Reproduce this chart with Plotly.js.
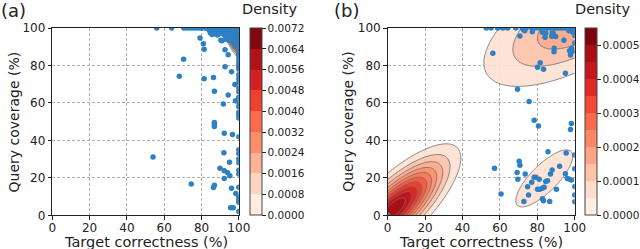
<!DOCTYPE html>
<html>
<head>
<meta charset="utf-8">
<script src="https://cdn.plot.ly/plotly-3.0.1.min.js"></script>
<style>html,body{margin:0;padding:0;background:#fff;}#chart{width:640px;height:249px;}</style>
</head>
<body>
<div id="chart"></div>
<script>
// ---------------- data ----------------
// Panel (a): hit points (target correctness %, query coverage %)
const aX = [
 56,64,70.5,72,73.5,75,76.5,78,79.5,80.5,82,83,84,85,86,87,88,89,90,91,92,93,94,95,96,97,98,99,100,
 84,86,88,89.5,91,92,93,94,95,96,97,98,99,100,
 92.5,94,95.5,97,98.5,100,91,93,95,97,99,
 93,94.5,99.5,100,100,100,100,100,100,100,100,
 97.2,98.2,96.3,
 79.2,81,81.4,84.7,85.6,88,88.7,90.4,91,92.6,94.3,
 70.4,68.1,81.4,86.4,92.6,96.1,97.9,86.9,94.3,98.2,91.7,
 86.9,86.9,86.9,92.2,96.6,54,92,95,89.9,92.2,94,95.2,92.2,74.5,86.9,86.4,96.1,98.4,95.6,97,
 100,100,100,100,100,100,100,100,100,100,100,100,100,100,100,100,100,100,100,100,100,100,100,100,100,100
];
const aY = [
 100,100,100,100,100,100,100,100,100,100,100,100,100,100,100,100,100,100,100,100,100,100,100,100,100,100,100,100,100,
 99,98.5,99,98,99,97.5,98.5,97,98.5,97,98.5,97,98.5,97,
 96,95.5,96,95.5,96,95,97,96.5,97,97,96.5,
 94,93.5,94,93,91.5,89,87,86,85,83,81.5,
 92.5,90.5,94.5,
 94.6,91.6,88.6,97.5,96.5,96.5,96.2,93.5,93.2,88.4,85.7,
 83.3,74.2,72.9,73.6,79.3,76.6,69.8,66.2,64.2,61.2,59.4,
 49.6,48.5,47.4,43.8,43.1,31.1,33.4,28.3,25.1,23.8,22.7,21.1,19.6,16.7,16.1,14.9,14.4,11.7,4,4,
 2,7,8.5,10,15,22,24,28,30,33,35,42,52,53.5,55,58,60,63,66,68,71,73,75,78,80,79
];
// Panel (b): hit points
const bX = [
 52.7,55.3,58.8,61.5,64.1,68.5,72,74,77,79,81,83,85,86.5,88,89.5,91,92.5,94,95.5,97,98,99,100,
 70.7,72.6,73.3,77.3,82.7,84.5,88.4,87.7,84.1,94.2,98.6,96.9,88,89.8,89,98.3,98.7,
 88.9,81.5,80.1,83.3,95,97.2,97.7,56.2,69.4,75.6,78.3,80.6,98.2,97.7,
 100,100,100,100,100,100,100,100,
 57.1,60.6,70.3,70.7,69.2,69.6,73.5,74.8,75.3,72.8,77,78.3,79.2,81,80.1,81.3,82.7,83.6,84.5,85.4,
 85.7,87.9,87,82.7,83.3,86.6,90.2,91.9,95.4,95,96,97.2,98.2,0
];
const bY = [
 100,100,100,100,100,100,100,100,100,100,100,100,100,100,100,100,100,100,100,100,100,100,100,100,
 95.7,99,98.5,98,97.7,97.3,97.3,95.6,95,93.4,98,98.5,97.3,95.4,89.2,89.2,87.5,
 87.3,81.5,79,78,75.8,87.9,85.6,86.5,67.3,60.7,50.7,47.7,49,45.8,
 7.3,10.9,15.4,24.9,32.2,92,96,98,
 25.1,11.4,28.8,26.7,22.9,19.2,22,15.2,10.9,7.4,17.7,20.3,20.3,19.2,13.9,13.9,14.4,15,18,18.5,
 33.9,24.2,22,8.9,7.8,7.4,13.9,26.2,33.3,22.2,19.6,19.2,18.8,0
];
// Fitted density model components (Gaussian mixture)
const aCompMx = [97.3], aCompMy = [92.8], aCompSx = [2.6], aCompSy = [4.5], aCompRho = [-0.77], aCompPeak = [0.0070];
const bCompMx = [3, 105, 83.7], bCompMy = [3, 106, 19.7];
const bCompSx = [16.5, 32, 15.3], bCompSy = [16, 22.2, 15.3];
const bCompRho = [0.78, 0.66, 0.78], bCompPeak = [0.00054, 0.000203, 0.000082];
// Density levels (colour bands)
const aLevelStep = 0.0008, aLevelCount = 9;      // 0 .. 0.0072
const bLevelStep = 0.00005, bLevelCount = 11;    // 0 .. 0.00055
const aCbTicks = [0,0.0008,0.0016,0.0024,0.0032,0.0040,0.0048,0.0056,0.0064,0.0072];
const bCbTicks = [0,0.0001,0.0002,0.0003,0.0004,0.0005];
const axisTicks = [0,20,40,60,80,100];
const xTitle = 'Target correctness (%)', yTitle = 'Query coverage (%)', cbTitle = 'Density';
const panelLabels = ['(a)', '(b)'];

// ---------------- helpers ----------------
const redsAnchors = [[255,245,240],[254,224,210],[252,187,161],[252,146,114],[251,106,74],[239,59,44],[203,24,29],[165,15,21],[103,0,13]];
function reds(f){
  f = Math.max(0, Math.min(1, f));
  const p = f*(redsAnchors.length-1); const i = Math.min(Math.floor(p), redsAnchors.length-2); const t = p-i;
  const c = redsAnchors[i].map((v,k)=>Math.round(v+(redsAnchors[i+1][k]-v)*t));
  return 'rgb('+c.join(',')+')';
}
function density(mx,my,sx,sy,rho,peak,gx,gy){
  const z=[];
  for(let j=0;j<gy.length;j++){
    const row=[];
    for(let i=0;i<gx.length;i++){
      let s=0;
      for(let k=0;k<mx.length;k++){
        const dx=(gx[i]-mx[k])/sx[k], dy=(gy[j]-my[k])/sy[k];
        const q=(dx*dx-2*rho[k]*dx*dy+dy*dy)/(1-rho[k]*rho[k]);
        s+=peak[k]*Math.exp(-0.5*q);
      }
      row.push(s);
    }
    z.push(row);
  }
  return z;
}
const grid=[]; for(let v=0; v<=100.0001; v+=0.5) grid.push(+v.toFixed(2));

function contourScale(n){ // plotly contour fill bands -> matplotlib layer colors
  const nc=n-2; const cs=[[0,'rgba(255,255,255,0)']];
  for(let j=1;j<=nc;j++) cs.push([j/nc, reds((j+0.5)/n)]);
  return cs;
}
function stepScale(n){
  const cs=[];
  for(let i=0;i<n;i++){ const c=reds((i+0.5)/n); cs.push([i/n,c]); cs.push([(i+1)/n,c]); }
  return cs;
}

const FONT='DejaVu Sans, sans-serif';
const ptColor='#2f80c2';
const contourLine={color:'rgba(110,110,110,0.85)', width:1, smoothing:1};

function cbar(xpos, ticks){
  return {x:xpos, xanchor:'left', xpad:0, ypad:0, y:0.5115, yanchor:'middle', len:0.7523, lenmode:'fraction',
    thickness:11.6, thicknessmode:'pixels', outlinewidth:1, outlinecolor:'#444',
    tickvals:ticks, tickformat:'.4f', ticks:'outside', ticklen:3.5, tickwidth:1, tickcolor:'#222',
    tickfont:{family:FONT,size:10.5,color:'#222'}};
}

const traces=[
  {type:'contour', x:grid, y:grid, z:density(aCompMx,aCompMy,aCompSx,aCompSy,aCompRho,aCompPeak,grid,grid),
   xaxis:'x', yaxis:'y', autocontour:false,
   contours:{start:aLevelStep, end:aLevelStep*(aLevelCount-1), size:aLevelStep, coloring:'fill'},
   colorscale:contourScale(aLevelCount), showscale:false, line:contourLine, hoverinfo:'skip'},
  {type:'scatter', mode:'markers', x:aX, y:aY, xaxis:'x', yaxis:'y', cliponaxis:true,
   marker:{color:ptColor, size:5.5}, showlegend:false},
  {type:'scatter', mode:'markers', x:[null], y:[null], xaxis:'x', yaxis:'y', showlegend:false, hoverinfo:'skip',
   marker:{color:[0], cmin:0, cmax:aLevelStep*aLevelCount, colorscale:stepScale(aLevelCount), showscale:true,
   colorbar:cbar(251.7/640, aCbTicks)}},
  {type:'contour', x:grid, y:grid, z:density(bCompMx,bCompMy,bCompSx,bCompSy,bCompRho,bCompPeak,grid,grid),
   xaxis:'x2', yaxis:'y2', autocontour:false,
   contours:{start:bLevelStep, end:bLevelStep*(bLevelCount-1), size:bLevelStep, coloring:'fill'},
   colorscale:contourScale(bLevelCount), showscale:false, line:contourLine, hoverinfo:'skip'},
  {type:'scatter', mode:'markers', x:bX, y:bY, xaxis:'x2', yaxis:'y2', cliponaxis:true,
   marker:{color:ptColor, size:5.5}, showlegend:false},
  {type:'scatter', mode:'markers', x:[null], y:[null], xaxis:'x2', yaxis:'y2', showlegend:false, hoverinfo:'skip',
   marker:{color:[0], cmin:0, cmax:bLevelStep*bLevelCount, colorscale:stepScale(bLevelCount), showscale:true,
   colorbar:cbar(589.3/640, bCbTicks)}}
];

function ax(domain, anchor, isX){
  return {domain:domain, range:[0,100], tickvals:axisTicks, anchor:anchor,
    showline:true, linecolor:'#222', linewidth:1, mirror:true,
    ticks:'outside', ticklen:3.5, tickwidth:1, tickcolor:'#222',
    ticklabelstandoff: isX ? -2 : 0,
    tickfont:{family:FONT,size:12,color:'#222'},
    showgrid:true, gridcolor:'#b0b0b0', gridwidth:1, griddash:'3px,2px',
    zeroline:false, automargin:false, fixedrange:true};
}
function txt(t, xpx, ypx, size, angle, xanchor){
  return {text:t, xref:'paper', yref:'paper', x:xpx/640, y:1-ypx/249, xanchor:xanchor||'center', yanchor:'middle',
    showarrow:false, textangle:angle||0, borderpad:0, font:{family:FONT,size:size,color:'#222'}};
}
const layout={
  width:640, height:249, margin:{l:0,r:0,t:0,b:0}, paper_bgcolor:'#fff', plot_bgcolor:'#fff',
  showlegend:false, font:{family:FONT,color:'#222'},
  xaxis: ax([52.7/640, 240.7/640], 'y', true),
  yaxis: ax([1-215.3/249, 1-28/249], 'x', false),
  xaxis2: ax([390.7/640, 579.3/640], 'y2', true),
  yaxis2: ax([1-215.3/249, 1-28/249], 'x2', false),
  annotations:[
    txt(panelLabels[0], 0, 11, 18, 0, 'left'),
    txt(panelLabels[1], 336, 11, 18, 0, 'left'),
    txt(cbTitle, 272, 9, 14.5),
    txt(cbTitle, 608, 9, 14.5),
    txt(xTitle, 146.7, 241.5, 14.5),
    txt(xTitle, 485, 241.5, 14.5),
    txt(yTitle, 14, 121.6, 14, -90),
    txt(yTitle, 350, 121.6, 14, -90)
  ]
};
Plotly.newPlot('chart', traces, layout, {displayModeBar:false, staticPlot:true});
</script>
</body>
</html>
